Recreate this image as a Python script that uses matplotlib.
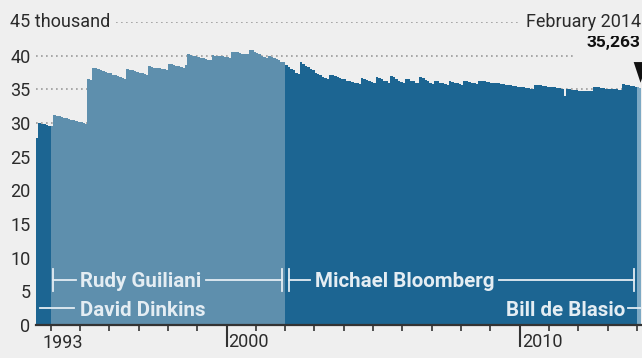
import matplotlib
matplotlib.use("Agg")
import matplotlib.pyplot as plt
import numpy as np
from matplotlib.transforms import IdentityTransform, blended_transform_factory
from matplotlib.lines import Line2D

# ---------------- data (NYPD uniformed headcount, thousands, monthly) ----------------
start_year = 1993.5  # July 1993

dinkins = [27.8, 30.0, 29.9, 29.8, 29.7, 29.6]  # Jul-Dec 1993

giuliani = [  # Jan 1994 - Dec 2001
    29.5, 31.2, 31.1, 31.0, 30.9, 30.8, 30.7, 30.6, 30.5, 30.4, 30.3, 30.2,
    30.1, 30.0, 29.9, 36.5, 36.4, 38.2, 38.1, 38.0, 37.9, 37.7, 37.6, 37.5,
    37.4, 37.2, 37.1, 37.0, 36.9, 36.7, 36.6, 38.0, 37.9, 37.8, 37.7, 37.6,
    37.5, 37.4, 37.3, 37.2, 38.4, 38.3, 38.2, 38.2, 38.1, 38.0, 38.0, 37.9,
    38.8, 38.7, 38.6, 38.5, 38.4, 38.3, 38.2, 38.6, 40.2, 40.1, 40.0, 39.9,
    39.8, 39.7, 39.6, 39.5, 39.4, 39.3, 40.1, 40.0, 40.0, 39.9, 39.9, 39.8,
    39.8, 39.7, 40.6, 40.5, 40.5, 40.4, 40.3, 40.3, 40.2, 40.9, 40.8, 40.6,
    40.4, 40.2, 40.0, 39.8, 39.7, 39.9, 39.8, 39.6, 39.5, 39.3, 39.1, 39.0,
]

bloomberg = [  # Jan 2002 - Dec 2013
    38.6, 38.3, 38.0, 37.8, 37.5, 37.3, 39.0, 38.8, 38.5, 38.3, 38.0, 37.8,
    37.5, 37.3, 37.1, 36.9, 36.7, 36.5, 37.2, 37.1, 37.0, 36.8, 36.7, 36.6,
    36.5, 36.3, 36.2, 36.1, 36.0, 35.9, 35.8, 36.7, 36.5, 36.4, 36.3, 36.1,
    36.0, 36.9, 36.7, 36.5, 36.3, 36.2, 36.0, 37.0, 36.8, 36.5, 36.3, 36.1,
    35.9, 36.6, 36.5, 36.3, 36.2, 36.0, 35.9, 36.9, 36.7, 36.4, 36.2, 36.0,
    35.8, 36.3, 36.2, 36.0, 35.9, 35.8, 35.7, 36.2, 36.1, 36.0, 35.9, 35.8,
    35.7, 36.3, 36.2, 36.1, 36.0, 35.9, 35.8, 36.3, 36.2, 36.2, 36.1, 36.1,
    36.0, 36.0, 35.9, 35.9, 35.8, 35.8, 35.7, 35.7, 35.6, 35.5, 35.5, 35.4,
    35.4, 35.3, 35.2, 35.2, 35.1, 35.0, 35.7, 35.6, 35.6, 35.5, 35.5, 35.4,
    35.4, 35.3, 35.3, 35.2, 35.2, 35.1, 34.0, 35.0, 35.0, 34.9, 34.9, 34.9,
    34.8, 34.8, 34.8, 34.7, 34.7, 34.7, 35.4, 35.3, 35.3, 35.2, 35.2, 35.1,
    35.1, 35.0, 35.0, 35.0, 34.9, 34.9, 35.8, 35.7, 35.6, 35.5, 35.5, 35.4,
]

deblasio = [35.4, 35.263]  # Jan-Feb 2014

mayors = ["David Dinkins", "Rudy Guiliani", "Michael Bloomberg", "Bill de Blasio"]
term_starts = [1990.0, 1994.0, 2002.0, 2014.0]
term_ends = [1994.0, 2002.0, 2014.0, 2018.0]

y_ticks = [0, 5, 10, 15, 20, 25, 30, 35, 40, 45]
y_tick_labels = ["0", "5", "10", "15", "20", "25", "30", "35", "40", ""]
x_major = [2000, 2010]
x_minor = list(range(1994, 2015))
last_label = "February 2014"

# ---------------- style ----------------
BG = "#efefef"
DARK = "#1c6592"
LIGHT = "#5e8fad"
LIGHT2 = "#7da9c4"
LABEL_COL = "#e4edf3"
TXT = "#2b2b2b"
FONT = "Roboto"
TICK_FS = 13

W, H = 642, 358
fig = plt.figure(figsize=(W / 100, H / 100), dpi=100)
fig.patch.set_facecolor(BG)
ax = fig.add_axes([36 / W, (H - 325) / H, (641 - 36) / W, (325 - 22) / H])
ax.set_facecolor(BG)

eras = [dinkins, giuliani, bloomberg, deblasio]
colors = [DARK, LIGHT, DARK, LIGHT2]
offset = 0
for vals, col in zip(eras, colors):
    n = len(vals)
    xs = start_year + (offset + np.arange(n)) / 12.0
    ax.bar(xs, vals, width=(1 / 12) * 1.06, align="edge", color=col,
           linewidth=0, zorder=2)
    offset += n

all_vals = dinkins + giuliani + bloomberg + deblasio
n_total = len(all_vals)
x_last = start_year + (n_total - 1) / 12.0

ax.set_xlim(start_year, 2014.14)
ax.set_ylim(0, 45)

for s in ["top", "right", "left"]:
    ax.spines[s].set_visible(False)
ax.spines["bottom"].set_color("#333333")
ax.spines["bottom"].set_linewidth(1.6)
ax.spines["bottom"].set_zorder(3)

ax.set_yticks(y_ticks)
ax.set_yticklabels(y_tick_labels, fontfamily=FONT, fontsize=TICK_FS, color=TXT)
ax.tick_params(axis="y", length=0, pad=4)
ax.yaxis.grid(True, linestyle=(0, (1, 2)), color="#9a9a9a", linewidth=1.2)
ax.set_axisbelow(True)

ax.set_xticks(x_major)
ax.set_xticklabels([])
ax.set_xticks(x_minor, minor=True)
ax.tick_params(axis="x", which="major", length=16, width=1.5, color="#333333", direction="out")
ax.tick_params(axis="x", which="minor", length=4, width=1.2, color="#333333", direction="out")

xlab_tr = blended_transform_factory(ax.transData, ax.transAxes)
for yr in x_major:
    ax.annotate(str(yr), xy=(yr, 0), xycoords=xlab_tr, xytext=(2, -17),
                textcoords="offset pixels", ha="left", va="center",
                fontfamily=FONT, fontsize=TICK_FS, color=TXT, annotation_clip=False)
ax.annotate("1993", xy=(1993.72, 0), xycoords=xlab_tr, xytext=(0, -18),
            textcoords="offset pixels", ha="left", va="center",
            fontfamily=FONT, fontsize=TICK_FS, color=TXT, annotation_clip=False)

# unit label and date label on 45 gridline
ytr = blended_transform_factory(ax.transAxes, ax.transData)
ax.annotate("45 thousand", xy=(0, 45), xycoords=ytr, xytext=(-26, 0),
            textcoords="offset pixels", ha="left", va="center",
            fontfamily=FONT, fontsize=TICK_FS, color=TXT, annotation_clip=False,
            bbox=dict(boxstyle="square,pad=0.15", fc=BG, ec="none"))

last_val = all_vals[-1]
ax.annotate(f"{round(last_val * 1000):,}", xy=(x_last, last_val), xycoords="data",
            xytext=(1, 45), textcoords="offset pixels", ha="right", va="center",
            fontfamily=FONT, fontsize=12.5, fontweight="bold", color="#111111",
            annotation_clip=False,
            bbox=dict(boxstyle="square,pad=0.6", fc=BG, ec="none"), zorder=4)
ax.annotate(last_label, xy=(1, 45), xycoords=ytr, xytext=(0, 0),
            textcoords="offset pixels", ha="right", va="center",
            fontfamily=FONT, fontsize=TICK_FS, color=TXT, annotation_clip=False,
            bbox=dict(boxstyle="square,pad=0.25", fc=BG, ec="none"), zorder=5)
ax.annotate("", xy=(x_last + 1 / 24, last_val + 0.3), xycoords="data",
            xytext=(x_last + 1 / 24, last_val + 4.2), textcoords="data",
            arrowprops=dict(arrowstyle="wedge,tail_width=0.55,shrink_factor=0.5",
                            fc="#111111", ec="none", mutation_scale=18),
            annotation_clip=False, zorder=6)

# ---------------- mayor term labels ----------------
fig.canvas.draw()
renderer = fig.canvas.get_renderer()
ident = IdentityTransform()


def xd(x):
    return ax.transData.transform((x, 0))[0]


def yd(y):
    return ax.transData.transform((0, y))[1]


def seg(x0, x1, y0, y1):
    fig.add_artist(Line2D([x0, x1], [y0, y1], transform=ident, color=LABEL_COL,
                          linewidth=1.3, zorder=5))


def label(x, y, s, ha):
    t = fig.text(x, y, s, transform=ident, ha=ha, va="center_baseline",
                 fontfamily=FONT, fontsize=14.8, fontweight="bold",
                 color=LABEL_COL, zorder=5)
    return t, t.get_window_extent(renderer)


row_top = yd(6.7)
row_bot = yd(2.5)
half = 11
ax_left = ax.transAxes.transform((0, 0))[0]
ax_right = ax.transAxes.transform((1, 0))[0]

# Giuliani bracket
gl = xd(term_starts[1]) + 2
gr = xd(term_ends[1]) - 3
text_left = gl + 27
t, e = label(text_left, row_top, mayors[1], "left")
seg(gl, e.x0 - 4, row_top, row_top)
seg(e.x1 + 5, gr, row_top, row_top)
seg(gl, gl, row_top - half, row_top + half)
seg(gr, gr, row_top - half, row_top + half)

# Bloomberg bracket
bl = xd(term_starts[2]) + 3.5
br = xd(term_ends[2]) - 3
t, e = label(bl + 26, row_top, mayors[2], "left")
seg(bl, e.x0 - 5, row_top, row_top)
seg(e.x1 + 5, br, row_top, row_top)
seg(bl, bl, row_top - half, row_top + half)
seg(br, br, row_top - half, row_top + half)

# Dinkins
t, e = label(text_left, row_bot, mayors[0], "left")
seg(ax_left + 4, e.x0 - 6, row_bot, row_bot)

# de Blasio
t, e = label(xd(term_starts[3]) - 12, row_bot, mayors[3], "right")
seg(e.x1 + 3, ax_right, row_bot, row_bot)

fig.savefig("out.png", dpi=100, facecolor=BG)
